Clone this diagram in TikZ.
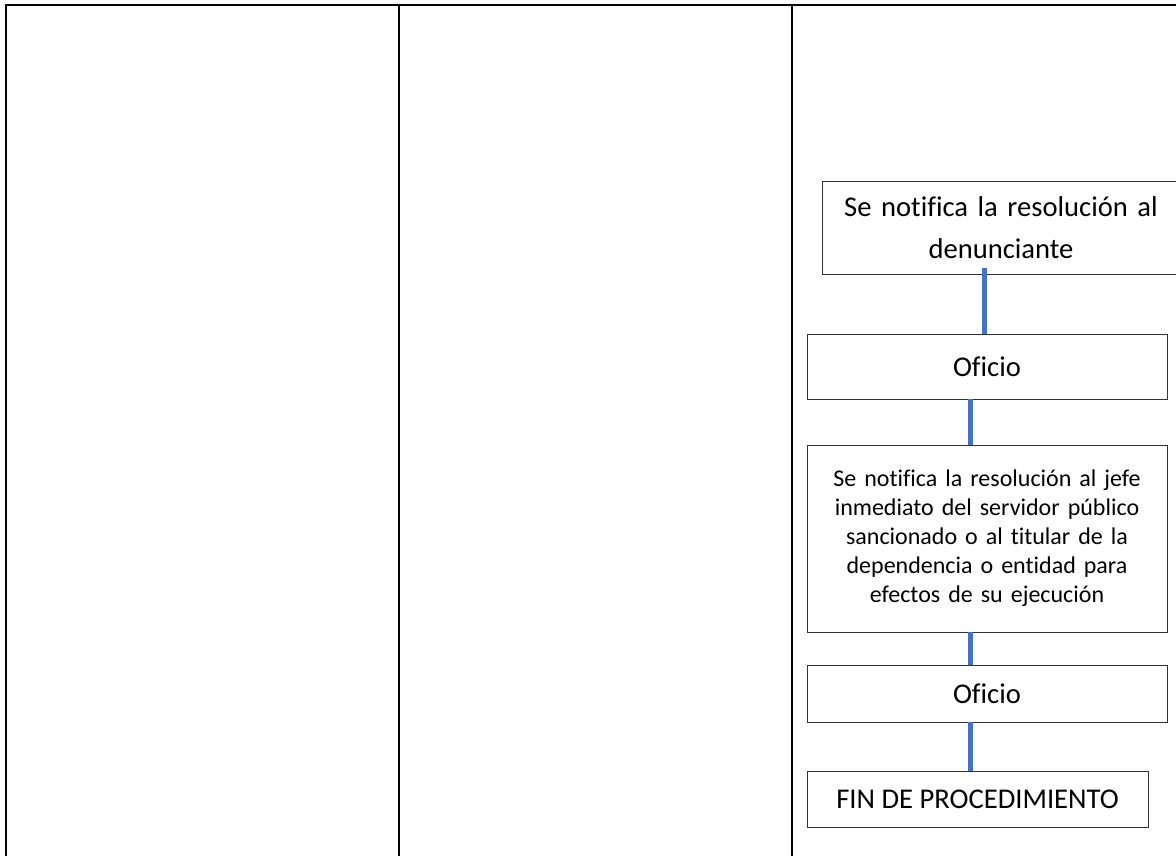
\documentclass[tikz,border=0pt]{standalone}
\usepackage{fontspec}
\setmainfont{Carlito}[Ligatures=NoCommon]
\begin{document}
\begin{tikzpicture}[x=1pt,y=-1pt,
  tableline/.style={line width=2.5pt,black},
  stepbox/.style={draw=black!80,line width=0.9pt,fill=white,rectangle,inner sep=0pt,align=center},
  big/.style={font=\fontsize{28.6}{42}\selectfont},
  small/.style={font=\fontsize{24}{29}\selectfont},
  conn/.style={line width=5pt,draw={rgb,255:red,68;green,114;blue,196}}]
\clip (0,0) rectangle (1176,855);
\fill[white] (0,0) rectangle (1176,855);
% table
\draw[tableline] (6,860) -- (6,5) -- (1180,5);
\draw[tableline] (399,5) -- (399,860);
\draw[tableline] (792,5) -- (792,860);
% boxes
\node[stepbox,big,minimum width=358pt,minimum height=93pt,text width=350pt] (b1) at (1001,227.5) {Se notifica la resolución al\\denunciante};
\node[stepbox,big,minimum width=360pt,minimum height=65pt] (b2) at (987,366.5) {Oficio};
\node[stepbox,small,minimum width=360pt,minimum height=187pt,text width=352pt] (b3) at (987,538.5) {Se notifica la resolución al jefe\\inmediato del servidor público\\sancionado o al titular de la\\dependencia o entidad para\\efectos de su ejecución\\[4pt]};
\node[stepbox,big,minimum width=360pt,minimum height=57pt] (b4) at (987,693.5) {Oficio};
\node[stepbox,big,minimum width=341pt,minimum height=56pt] (b5) at (977.5,799) {FIN DE PROCEDIMIENTO};
% connectors
\draw[conn] ([xshift=-17pt,yshift=6pt]b1.south) -- ([xshift=-17pt]b1.south |- b2.north);
\draw[conn] ([xshift=-17pt]b2.south) -- ([xshift=-17pt]b2.south |- b3.north);
\draw[conn] ([xshift=-17pt]b3.south) -- ([xshift=-17pt]b3.south |- b4.north);
\draw[conn] ([xshift=-17pt]b4.south) -- ([xshift=-17pt]b4.south |- b5.north);
\end{tikzpicture}
\end{document}
